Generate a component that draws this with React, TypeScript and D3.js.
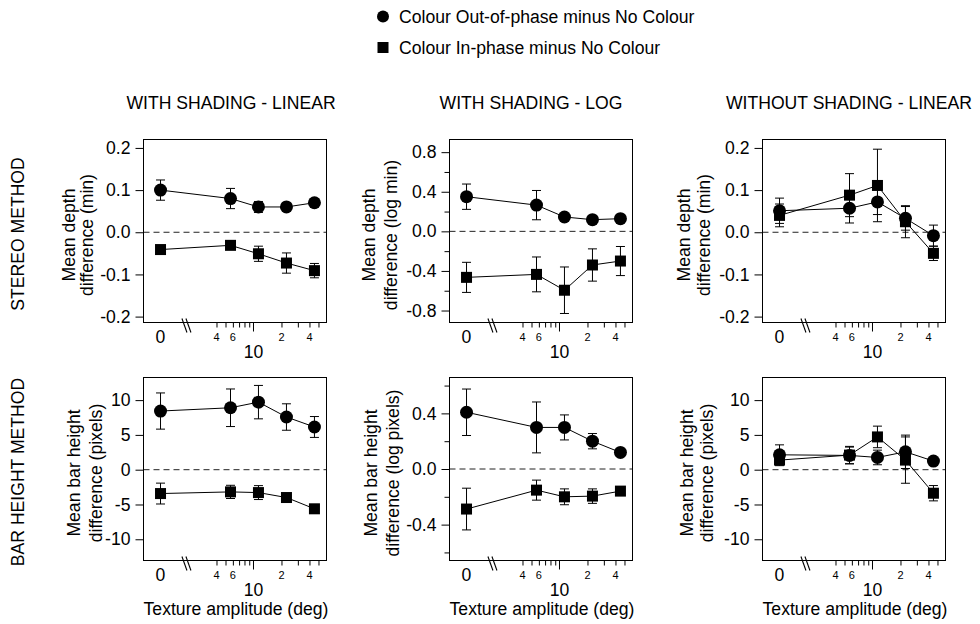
import { useRef, useEffect } from 'react';
import * as d3 from 'd3';

const WIDTH = 980;
const HEIGHT = 624;
const FONT = '"Liberation Sans", Arial, Helvetica, sans-serif';
const FS = 17.6;

// texture amplitude (deg); 0 is the untextured condition
const AMPLITUDES = [0, 5.66, 11.31, 22.63, 45.25];
const ZERO_PLOT_AT = 1; // where the "0" condition sits on the log axis
const BREAK_AT = 1.9;
const X_DOMAIN = [0.656, 61];
const X_MINOR_TICKS = [4, 5, 6, 7, 8, 9, 20, 30, 40, 50];
const X_MAJOR_TICK = 10;
const X_SMALL_TICK_VALUES = [4, 6, 20, 40];
const X_SMALL_TICK_LABELS = ['4', '6', '2', '4'];

const COLUMN_TITLES = ['WITH SHADING - LINEAR', 'WITH SHADING - LOG', 'WITHOUT SHADING - LINEAR'];
const ROW_TITLES = ['STEREO METHOD', 'BAR HEIGHT METHOD'];
const LEGEND_LABELS = ['Colour Out-of-phase minus No Colour', 'Colour In-phase minus No Colour'];
const X_TITLE = 'Texture amplitude (deg)';

// stereo method
const STEREO_LIN_OUT = [0.1, 0.08, 0.06, 0.06, 0.07];
const STEREO_LIN_OUT_ERR = [0.024, 0.024, 0.013, 0.004, 0.01];
const STEREO_LIN_IN = [-0.041, -0.031, -0.051, -0.073, -0.091];
const STEREO_LIN_IN_ERR = [0.005, 0.01, 0.018, 0.024, 0.017];
const STEREO_LOG_OUT = [0.35, 0.265, 0.145, 0.118, 0.128];
const STEREO_LOG_OUT_ERR = [0.128, 0.148, 0.02, 0.01, 0.01];
const STEREO_LOG_IN = [-0.465, -0.435, -0.595, -0.34, -0.3];
const STEREO_LOG_IN_ERR = [0.152, 0.176, 0.235, 0.163, 0.147];
const STEREO_NOSHADE_OUT = [0.051, 0.057, 0.072, 0.033, -0.008];
const STEREO_NOSHADE_OUT_ERR = [0.03, 0.035, 0.03, 0.028, 0.025];
const STEREO_NOSHADE_IN = [0.04, 0.088, 0.111, 0.025, -0.05];
const STEREO_NOSHADE_IN_ERR = [0.027, 0.051, 0.086, 0.038, 0.017];

// bar height method
const BAR_LIN_OUT = [8.43, 8.9, 9.71, 7.57, 6.14];
const BAR_LIN_OUT_ERR = [2.6, 2.7, 2.4, 1.9, 1.5];
const BAR_LIN_IN = [-3.43, -3.19, -3.29, -4.0, -5.62];
const BAR_LIN_IN_ERR = [1.5, 0.95, 1.0, 0.35, 0.35];
const BAR_LOG_OUT = [0.408, 0.299, 0.299, 0.2, 0.119];
const BAR_LOG_OUT_ERR = [0.167, 0.183, 0.09, 0.055, 0.012];
const BAR_LOG_IN = [-0.288, -0.152, -0.2, -0.195, -0.159];
const BAR_LOG_IN_ERR = [0.15, 0.072, 0.057, 0.052, 0.012];
const BAR_NOSHADE_OUT = [2.14, 2.05, 1.76, 2.57, 1.24];
const BAR_NOSHADE_OUT_ERR = [1.43, 1.2, 1.05, 2.4, 0.3];
const BAR_NOSHADE_IN = [1.38, 2.1, 4.71, 1.38, -3.38];
const BAR_NOSHADE_IN_ERR = [0.8, 1.25, 1.55, 3.33, 1.1];

const LIN_TICKS = [-0.2, -0.1, 0, 0.1, 0.2];
const LOG_STEREO_TICKS = [-0.8, -0.4, 0, 0.4, 0.8];
const LOG_BAR_TICKS = [-0.4, 0, 0.4];
const LOG_MINOR_TICKS = [-0.6, -0.2, 0.2, 0.6];
const PIXEL_TICKS = [-10, -5, 0, 5, 10];

const PANEL_X = [143.5, 449.5, 762.5];
const PANEL_Y = [139.5, 377.5];
const PANEL_W = 183;
const PANEL_H = 183;

const PANELS = [
  { row: 0, col: 0, yDomain: [-0.214, 0.22], ticks: LIN_TICKS, minor: [], dec: 1,
    yLabel: ['Mean depth', 'difference (min)'], labelX: [-75, -57],
    out: STEREO_LIN_OUT, outErr: STEREO_LIN_OUT_ERR, inn: STEREO_LIN_IN, innErr: STEREO_LIN_IN_ERR },
  { row: 0, col: 1, yDomain: [-0.921, 0.928], ticks: LOG_STEREO_TICKS, minor: LOG_MINOR_TICKS, dec: 1,
    yLabel: ['Mean depth', 'difference (log min)'], labelX: [-81, -59],
    out: STEREO_LOG_OUT, outErr: STEREO_LOG_OUT_ERR, inn: STEREO_LOG_IN, innErr: STEREO_LOG_IN_ERR },
  { row: 0, col: 2, yDomain: [-0.214, 0.22], ticks: LIN_TICKS, minor: [], dec: 1,
    yLabel: ['Mean depth', 'difference (min)'], labelX: [-79, -59],
    out: STEREO_NOSHADE_OUT, outErr: STEREO_NOSHADE_OUT_ERR, inn: STEREO_NOSHADE_IN, innErr: STEREO_NOSHADE_IN_ERR },
  { row: 1, col: 0, yDomain: [-13.05, 13.25], ticks: PIXEL_TICKS, minor: [], dec: 0,
    yLabel: ['Mean bar height', 'difference (pixels)'], labelX: [-70, -48],
    out: BAR_LIN_OUT, outErr: BAR_LIN_OUT_ERR, inn: BAR_LIN_IN, innErr: BAR_LIN_IN_ERR },
  { row: 1, col: 1, yDomain: [-0.658, 0.658], ticks: LOG_BAR_TICKS, minor: LOG_MINOR_TICKS, dec: 1,
    yLabel: ['Mean bar height', 'difference (log pixels)'], labelX: [-79, -57],
    out: BAR_LOG_OUT, outErr: BAR_LOG_OUT_ERR, inn: BAR_LOG_IN, innErr: BAR_LOG_IN_ERR },
  { row: 1, col: 2, yDomain: [-13.05, 13.25], ticks: PIXEL_TICKS, minor: [], dec: 0,
    yLabel: ['Mean bar height', 'difference (pixels)'], labelX: [-76, -56],
    out: BAR_NOSHADE_OUT, outErr: BAR_NOSHADE_OUT_ERR, inn: BAR_NOSHADE_IN, innErr: BAR_NOSHADE_IN_ERR },
];

const TITLE_SHIFT = [-4, -10, -5];

function fmt(v: number, dec: number) {
  const s = Math.abs(v).toFixed(dec);
  return v < 0 ? '-' + s : s;
}

function App() {
  const svgRef = useRef<SVGSVGElement>(null);

  useEffect(() => {
    const svg = d3.select(svgRef.current);
    svg.selectAll('*').remove();
    svg.append('rect').attr('width', WIDTH).attr('height', HEIGHT).attr('fill', '#fff');

    // Legend
    const legend = svg.append('g');
    legend.append('circle').attr('cx', 383).attr('cy', 16.5).attr('r', 6).attr('fill', '#000');
    legend.append('rect').attr('x', 377.5).attr('y', 42).attr('width', 11).attr('height', 11).attr('fill', '#000');
    LEGEND_LABELS.forEach((t, i) => {
      legend.append('text')
        .attr('x', 399).attr('y', 22.5 + i * 31)
        .attr('font-size', FS).attr('font-family', FONT).attr('fill', '#000')
        .text(t);
    });

    // Column titles
    COLUMN_TITLES.forEach((t, i) => {
      svg.append('text')
        .attr('x', PANEL_X[i] + PANEL_W / 2 + TITLE_SHIFT[i]).attr('y', 109)
        .attr('text-anchor', 'middle')
        .attr('font-size', FS).attr('font-family', FONT)
        .text(t);
    });

    // Row titles
    ROW_TITLES.forEach((t, i) => {
      const cy = PANEL_Y[i] + PANEL_H / 2 + 3;
      svg.append('text')
        .attr('transform', `translate(18,${cy}) rotate(-90)`)
        .attr('text-anchor', 'middle')
        .attr('dominant-baseline', 'central')
        .attr('font-size', FS).attr('font-family', FONT)
        .text(t);
    });

    PANELS.forEach(p => {
      const g = svg.append('g')
        .attr('transform', `translate(${PANEL_X[p.col]},${PANEL_Y[p.row]})`);

      const x = d3.scaleLog().domain(X_DOMAIN).range([0, PANEL_W]);
      const y = d3.scaleLinear().domain(p.yDomain).range([PANEL_H, 0]);
      const xPos = (v: number) => x(v === 0 ? ZERO_PLOT_AT : v);

      // Y axis
      g.append('g')
        .call(d3.axisLeft(y).tickValues(p.ticks).tickSize(8).tickPadding(5)
          .tickFormat(d => fmt(d as number, p.dec)))
        .call(a => a.select('.domain').remove())
        .call(a => a.selectAll('.tick line').attr('stroke', '#000'))
        .call(a => a.selectAll('.tick text')
          .attr('font-size', FS).attr('font-family', FONT).attr('fill', '#000'));

      if (p.minor.length) {
        g.append('g')
          .call(d3.axisLeft(y).tickValues(p.minor).tickSize(5).tickFormat(() => ''))
          .call(a => a.select('.domain').remove())
          .call(a => a.selectAll('.tick line').attr('stroke', '#000'));
      }

      // X axis ticks
      g.append('g')
        .attr('transform', `translate(0,${PANEL_H})`)
        .call(d3.axisBottom(x).tickValues(X_MINOR_TICKS).tickSize(5).tickFormat(() => ''))
        .call(a => a.select('.domain').remove())
        .call(a => a.selectAll('.tick line').attr('stroke', '#000'));

      g.append('line')
        .attr('x1', x(X_MAJOR_TICK)).attr('x2', x(X_MAJOR_TICK))
        .attr('y1', PANEL_H).attr('y2', PANEL_H + 9)
        .attr('stroke', '#000');

      g.selectAll('.xsmall')
        .data(X_SMALL_TICK_VALUES)
        .join('text')
        .attr('x', d => x(d)).attr('y', PANEL_H + 18)
        .attr('text-anchor', 'middle')
        .attr('font-size', 11).attr('font-family', FONT)
        .text((_, i) => X_SMALL_TICK_LABELS[i]);

      g.append('text')
        .attr('x', xPos(0)).attr('y', PANEL_H + 20)
        .attr('text-anchor', 'middle')
        .attr('font-size', FS).attr('font-family', FONT)
        .text('0');

      g.append('text')
        .attr('x', x(X_MAJOR_TICK)).attr('y', PANEL_H + 35)
        .attr('text-anchor', 'middle')
        .attr('font-size', FS).attr('font-family', FONT)
        .text(String(X_MAJOR_TICK));

      if (p.row === 1) {
        g.append('text')
          .attr('x', PANEL_W / 2 + 1).attr('y', PANEL_H + 54)
          .attr('text-anchor', 'middle')
          .attr('font-size', FS).attr('font-family', FONT)
          .text(X_TITLE);
      }

      // Axis break
      const bx = x(BREAK_AT);
      [-2, 2].forEach(dx => {
        g.append('line')
          .attr('x1', bx + dx - 2.5).attr('y1', PANEL_H - 4)
          .attr('x2', bx + dx + 2.5).attr('y2', PANEL_H + 10)
          .attr('stroke', '#000').attr('stroke-width', 1.1);
      });

      // Y label
      const cy = PANEL_H / 2 + 4;
      p.yLabel.forEach((t, i) => {
        g.append('text')
          .attr('transform', `translate(${p.labelX[i]},${cy}) rotate(-90)`)
          .attr('text-anchor', 'middle')
          .attr('dominant-baseline', 'central')
          .attr('font-size', FS).attr('font-family', FONT)
          .text(t);
      });

      // Zero reference
      g.append('line')
        .attr('x1', 0).attr('x2', PANEL_W)
        .attr('y1', y(0)).attr('y2', y(0))
        .attr('stroke', '#222').attr('stroke-dasharray', '6,4');

      // Frame
      g.append('rect')
        .attr('width', PANEL_W).attr('height', PANEL_H)
        .attr('fill', 'none').attr('stroke', '#000');

      const series = [
        { vals: p.out, errs: p.outErr, shape: 'circle' },
        { vals: p.inn, errs: p.innErr, shape: 'square' },
      ];

      series.forEach(s => {
        const pts = AMPLITUDES.map((a, i) => ({ a, v: s.vals[i], e: s.errs[i] }));
        const line = d3.line<{ a: number; v: number }>().x(d => xPos(d.a)).y(d => y(d.v));
        g.append('path').datum(pts).attr('d', line)
          .attr('fill', 'none').attr('stroke', '#000').attr('stroke-width', 1);

        pts.forEach(d => {
          const cx = xPos(d.a);
          const y1 = y(d.v + d.e);
          const y2 = y(d.v - d.e);
          g.append('line').attr('x1', cx).attr('x2', cx).attr('y1', y1).attr('y2', y2)
            .attr('stroke', '#000');
          [y1, y2].forEach(yy => {
            g.append('line').attr('x1', cx - 4.5).attr('x2', cx + 4.5).attr('y1', yy).attr('y2', yy)
              .attr('stroke', '#000');
          });
          if (s.shape === 'circle') {
            g.append('circle').attr('cx', cx).attr('cy', y(d.v)).attr('r', 6.5).attr('fill', '#000');
          } else {
            g.append('rect').attr('x', cx - 5.5).attr('y', y(d.v) - 5.5)
              .attr('width', 11).attr('height', 11).attr('fill', '#000');
          }
        });
      });
    });
  }, []);

  return (
    <svg
      ref={svgRef}
      width={WIDTH}
      height={HEIGHT}
      style={{ position: 'absolute', left: 0, top: 0 }}
    />
  );
}

export default App;
